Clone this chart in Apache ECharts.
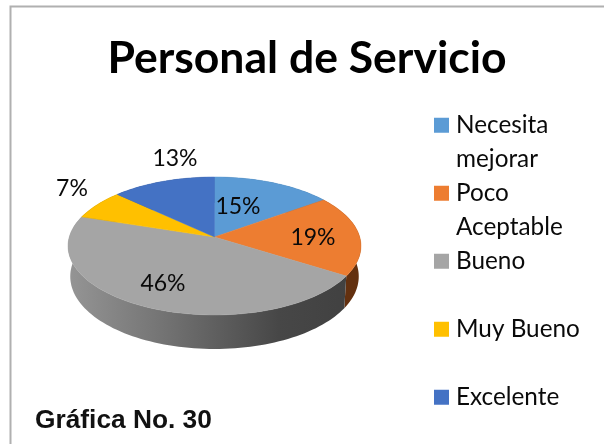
<!DOCTYPE html>
<html><head><meta charset="utf-8">
<style>html,body{margin:0;padding:0;background:#fff}#c{width:604px;height:444px}</style>
<script src="https://cdn.jsdelivr.net/npm/echarts@6/dist/echarts.min.js"></script>
</head><body><div id="c"></div>
<script>
const categories = ['Necesita mejorar','Poco Aceptable','Bueno','Muy Bueno','Excelente'];
const legendLines = [['Necesita','mejorar'],['Poco','Aceptable'],['Bueno',' '],['Muy Bueno',' '],['Excelente',' ']];
const values = [15,19,46,7,13];
const colors = ['#5b9bd5','#ed7d31','#a5a5a5','#ffc000','#4472c4'];
const sideColors = ['#2f5d85','#63300f','','#7f6000','#203864'];
const labelAt = [[238,206.5],[313,237.5],[163,283.5],[72,188.5],[175,158.5]];

const FONT = 'Lato, "Open Sans", sans-serif';
const cx = 214.5, cy = 237, B = 145.2, A = 67.8, K = -0.13;
const total = values.reduce((a,b)=>a+b,0);
function proj(t){
  const x = Math.sin(t), y = -Math.cos(t), d = 1 + K*y;
  return [cx + B*x/d, cy + A*y/d, y];
}
function bottom(t){
  const p = proj(t);
  return [cx + (p[0]-cx)*0.985, p[1] + 30 + 4*p[2]];
}
const grayGrad = new echarts.graphic.LinearGradient(68,0,361,0,[
  {offset:0,color:'#959595'},{offset:0.3,color:'#767676'},{offset:0.72,color:'#474747'},{offset:1,color:'#404040'}],true);

function makeRender(idx){
  return function(params, api){
    let s = 0;
    for(let i=0;i<idx;i++) s += values[i];
    const v = api.value(0);
    const t0 = s/total*2*Math.PI, t1 = (s+v)/total*2*Math.PI;
    const n = Math.max(6, Math.round(v*2));
    const rim = [], low = [];
    for(let j=0;j<=n;j++){
      const t = t0+(t1-t0)*j/n;
      rim.push(proj(t).slice(0,2));
      low.push(bottom(t));
    }
    const top = [[cx,cy]].concat(rim);
    const side = rim.concat(low.slice().reverse());
    return {type:'group',children:[
      {type:'polygon',z2:1,shape:{points:side},
       style:{fill: idx===2 ? grayGrad : sideColors[idx], stroke:'none'}},
      {type:'polygon',z2:2,shape:{points:top},
       style:{fill:colors[idx],stroke:colors[idx],lineWidth:0.5}},
      {type:'text',z2:3,x:labelAt[idx][0],y:labelAt[idx][1],
       style:{text:v+'%',font:'23px '+FONT,fill:'#0a0a0a',align:'center',verticalAlign:'middle'}}
    ]};
  };
}
const series = categories.map((name,i)=>({
  type:'custom',name,coordinateSystem:'none',
  data:[[values[i]]],
  itemStyle:{color:colors[i]},
  renderItem:makeRender(i),
  silent:true,animation:false
}));
const LINE = 33.5;
const chart = echarts.init(document.getElementById('c'),null,{renderer:'canvas'});
chart.setOption({
  animation:false,
  backgroundColor:'#fff',
  title:[{text:'Personal de Servicio',left:302,top:31,textAlign:'center',
    textStyle:{fontFamily:FONT,fontWeight:'bold',fontSize:44.5,color:'#000'}},
   {text:'Gráfica No. 30',left:30,top:403,
    textStyle:{fontFamily:'"Liberation Sans",Arial,sans-serif',fontWeight:'bold',fontSize:26.3,color:'#111'}}],
  legend:{
    orient:'vertical',left:429,top:70,height:420,
    itemWidth:15,itemHeight:15,itemGap:68-3*LINE,icon:'rect',
    align:'left',selectedMode:false,
    data:categories,
    formatter:n=>{const l=legendLines[categories.indexOf(n)];return ' \n'+l[0]+'\n'+l[1];},
    textStyle:{fontFamily:FONT,fontSize:24.3,color:'#0a0a0a',lineHeight:LINE,padding:[0,0,0,2]}
  },
  graphic:[{type:'polyline',silent:true,z:-1,
    shape:{points:[[10.5,444],[10.5,6.5],[604,6.5]]},style:{stroke:'#b0b0b0',lineWidth:2,fill:'none'}}],
  series
});
</script></body></html>
